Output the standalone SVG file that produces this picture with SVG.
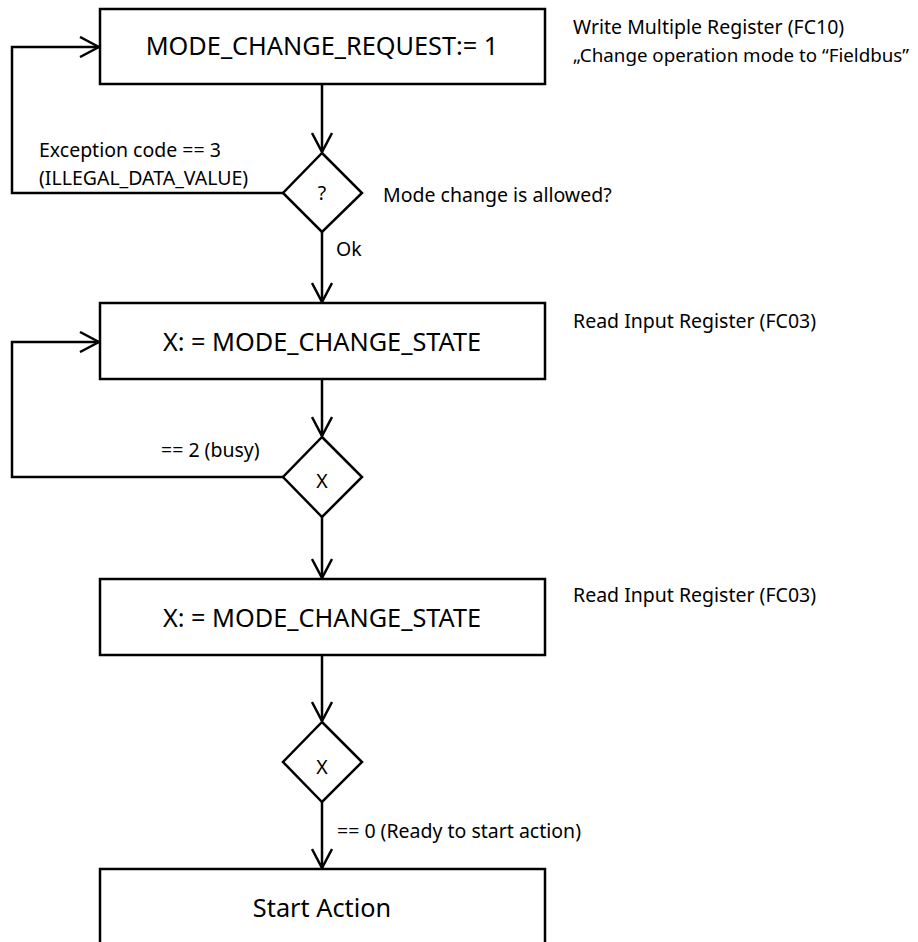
<svg xmlns="http://www.w3.org/2000/svg" width="918" height="942" viewBox="0 0 918 942">
<style>
.box{fill:#fff;stroke:#000;stroke-width:2.5}
.dia{fill:#fff;stroke:#000;stroke-width:2.5}
.ln{fill:none;stroke:#000;stroke-width:2.5;marker-end:url(#ah)}
.ln0{fill:none;stroke:#000;stroke-width:2.5}
text{font-family:"Noto Sans","Open Sans",sans-serif;fill:#000}
.main{font-size:25.3px;text-anchor:middle}
.lbl{font-size:19.5px}
.dl{font-size:19.5px;text-anchor:middle}
</style>
<defs>
<marker id="ah" viewBox="0 0 22 22" refX="20" refY="11" markerWidth="22" markerHeight="22" markerUnits="userSpaceOnUse" orient="auto">
<path d="M1,1 L20,11 L1,21" fill="none" stroke="#000" stroke-width="2.5"/>
</marker>
</defs>
<g id="connectors">
<path class="ln" d="M322,84 V152"/>
<path class="ln" d="M283,193 H12 V47 H99"/>
<path class="ln" d="M322,232 V302"/>
<path class="ln" d="M322,379 V436"/>
<path class="ln" d="M283,477 H12 V342 H99"/>
<path class="ln" d="M322,517 V578"/>
<path class="ln" d="M322,655 V721"/>
<path class="ln" d="M322,802 V868"/>
</g>
<g id="n1"><rect class="box" x="100" y="9" width="445" height="75"/><text class="main" x="322" y="55">MODE_CHANGE_REQUEST:= 1</text></g>
<g id="d1"><polygon class="dia" points="322,153 362,193 322,232 283,193"/><text class="dl" x="322" y="200">?</text></g>
<g id="n2"><rect class="box" x="100" y="303" width="445" height="76"/><text class="main" x="322" y="351">X: = MODE_CHANGE_STATE</text></g>
<g id="d2"><polygon class="dia" points="322,437 362,477 322,517 283,477"/><text class="dl" x="322" y="488">X</text></g>
<g id="n3"><rect class="box" x="100" y="579" width="445" height="76"/><text class="main" x="322" y="627">X: = MODE_CHANGE_STATE</text></g>
<g id="d3"><polygon class="dia" points="322,722 362,762 322,802 283,762"/><text class="dl" x="322" y="774">X</text></g>
<g id="n4"><path class="ln0" d="M100,945 V869 H545 V945"/><text class="main" x="322" y="917">Start Action</text></g>
<g id="labels">
<text class="lbl" x="573" y="34">Write Multiple Register (FC10)</text>
<text x="573" y="62" style="font-size:18.5px" textLength="336" lengthAdjust="spacingAndGlyphs">„Change operation mode to “Fieldbus”</text>
<text class="lbl" x="383" y="202">Mode change is allowed?</text>
<text class="lbl" x="39" y="157">Exception code == 3</text>
<text class="lbl" x="39" y="185">(ILLEGAL_DATA_VALUE)</text>
<text class="lbl" x="336" y="256">Ok</text>
<text class="lbl" x="573" y="328">Read Input Register (FC03)</text>
<text class="lbl" x="161" y="457">== 2 (busy)</text>
<text class="lbl" x="573" y="602">Read Input Register (FC03)</text>
<text class="lbl" x="337" y="838">== 0 (Ready to start action)</text>
</g>
</svg>
